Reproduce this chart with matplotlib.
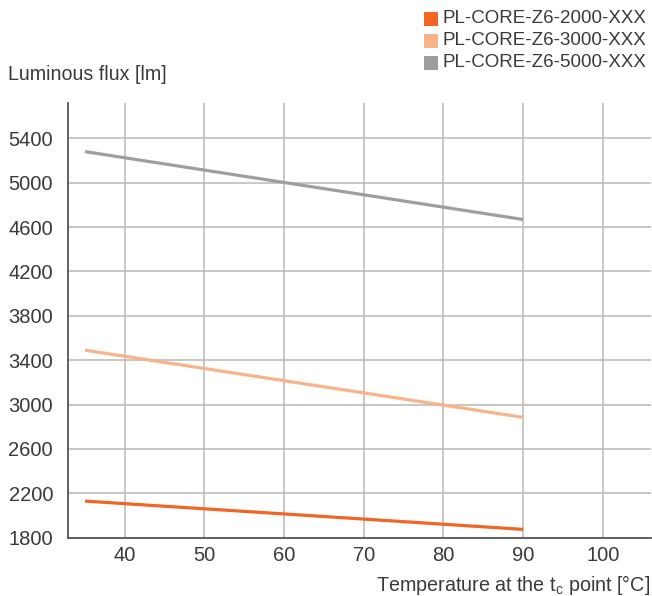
import matplotlib
matplotlib.use("Agg")
import matplotlib.pyplot as plt
from matplotlib.patches import Rectangle

plt.rcParams['font.family'] = ['Liberation Sans', 'DejaVu Sans']

temps = [35, 90]
series_names = ["PL-CORE-Z6-2000-XXX", "PL-CORE-Z6-3000-XXX", "PL-CORE-Z6-5000-XXX"]
flux_2000 = [2130, 1875]
flux_3000 = [3490, 2885]
flux_5000 = [5280, 4668]
colors = ["#F26522", "#F9B388", "#9E9EA0"]
x_ticks = [40, 50, 60, 70, 80, 90, 100]
y_ticks = [1800, 2200, 2600, 3000, 3400, 3800, 4200, 4600, 5000, 5400]

W, H = 652, 596
fig = plt.figure(figsize=(W / 100, H / 100), dpi=100)
L, R, T, B = 68.3, 650.5, 103, 537.7
ax = fig.add_axes([L / W, 1 - B / H, (R - L) / W, (B - T) / H])

txt = "#3a3a3a"
for vals, c in zip([flux_2000, flux_3000, flux_5000], colors):
    ax.plot(temps, vals, color=c, lw=2.3, solid_capstyle='butt', zorder=3)

ax.set_xlim(32.9, 106)
ax.set_ylim(1800, 5718)
ax.set_xticks(x_ticks)
ax.set_yticks(y_ticks)
ax.grid(True, color="#bdbdbd", lw=1.2)
ax.set_axisbelow(True)
for s in ["top", "right"]:
    ax.spines[s].set_visible(False)
for s in ["left", "bottom"]:
    ax.spines[s].set_color("#555555")
    ax.spines[s].set_linewidth(1.3)
ax.tick_params(axis='both', length=0, labelsize=14.5, colors=txt)
ax.tick_params(axis='y', pad=11)
ax.tick_params(axis='x', pad=6)

fig.text(8 / W, 1 - 75 / H, "Luminous flux [lm]", fontsize=14.1, color=txt, va='center', ha='left')
fig.text(650 / W, 1 - 585 / H, "Temperature at the t$_\\mathregular{c}$ point [°C]", fontsize=14.2,
         color=txt, va='center', ha='right')

# legend
for i, (name, c) in enumerate(zip(series_names, colors)):
    yc = 18.7 + 22 * i
    fig.patches.append(Rectangle((424 / W, 1 - (yc + 7) / H), 14.3 / W, 14 / H,
                                 transform=fig.transFigure, facecolor=c, edgecolor='none'))
    fig.text(443 / W, 1 - yc / H, name, fontsize=13.5, color=txt, va='center', ha='left')

fig.savefig("out.png", dpi=100)
